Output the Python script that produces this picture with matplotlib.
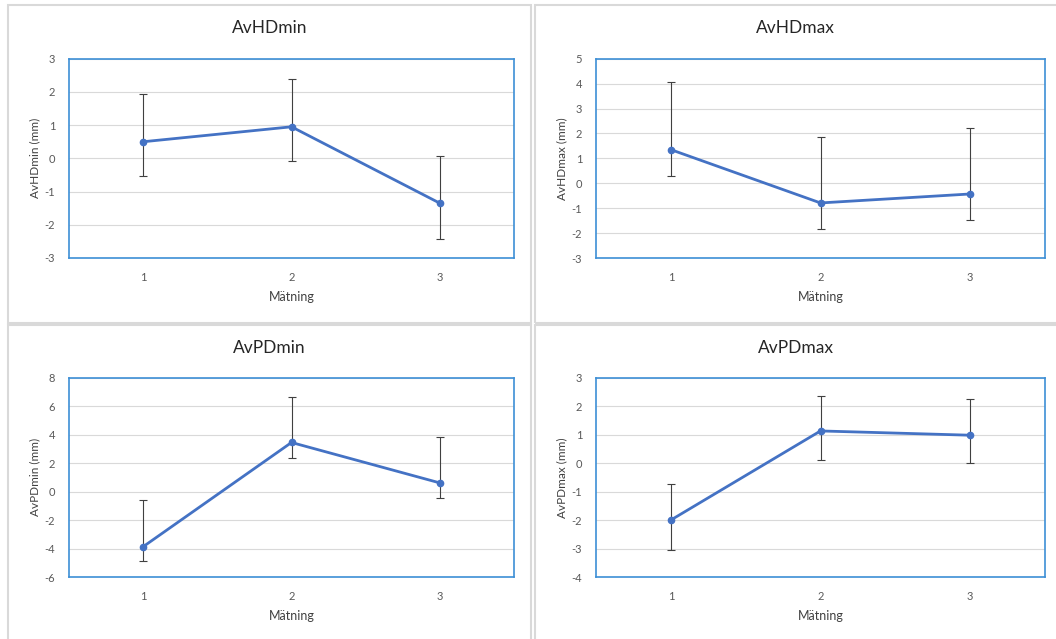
import numpy as np
from matplotlib import pyplot as plt
from matplotlib.patches import Rectangle

plt.rcParams['font.family'] = ['Lato', 'DejaVu Sans']
plt.rcParams['axes.unicode_minus'] = False

matning = [1, 2, 3]

titles = ['AvHDmin', 'AvHDmax', 'AvPDmin', 'AvPDmax']
ylabels = ['AvHDmin (mm)', 'AvHDmax (mm)', 'AvPDmin (mm)', 'AvPDmax (mm)']

avhdmin = [0.50, 0.95, -1.35]
avhdmin_low = [-0.53, -0.08, -2.42]
avhdmin_high = [1.94, 2.40, 0.06]

avhdmax = [1.35, -0.79, -0.43]
avhdmax_low = [0.29, -1.85, -1.49]
avhdmax_high = [4.05, 1.85, 2.20]

avpdmin = [-3.87, 3.45, 0.61]
avpdmin_low = [-4.87, 2.39, -0.42]
avpdmin_high = [-0.61, 6.63, 3.84]

avpdmax = [-2.0, 1.13, 0.98]
avpdmax_low = [-3.05, 0.10, 0.0]
avpdmax_high = [-0.73, 2.37, 2.26]

yranges = [(-3, 3, 1), (-3, 5, 1), (-6, 8, 2), (-4, 3, 1)]

series = [
    (avhdmin, avhdmin_low, avhdmin_high),
    (avhdmax, avhdmax_low, avhdmax_high),
    (avpdmin, avpdmin_low, avpdmin_high),
    (avpdmax, avpdmax_low, avpdmax_high),
]

W, H = 1056, 639
fig = plt.figure(figsize=(W / 100, H / 100), dpi=100)

# chart boxes (pixel coords: left, top, right, bottom)
boxes = [(8, 5, 531, 323), (535, 5, 1060, 323), (8, 325, 531, 645), (535, 325, 1060, 645)]
# plot areas
areas = [(69, 58.7, 514, 258), (596, 58.7, 1045, 258), (69, 377.7, 514, 577), (596, 377.7, 1045, 577)]

for b in boxes:
    fig.add_artist(Rectangle((b[0] / W, 1 - b[3] / H), (b[2] - b[0]) / W, (b[3] - b[1]) / H,
                             transform=fig.transFigure, fill=False, edgecolor='#d9d9d9', linewidth=1.5))

for i in range(4):
    l, t, r, b = areas[i]
    ax = fig.add_axes([l / W, 1 - b / H, (r - l) / W, (b - t) / H])
    y, lo, hi = series[i]
    y = np.array(y)
    yerr = [y - np.array(lo), np.array(hi) - y]
    ax.errorbar(matning, y, yerr=yerr, fmt='none', ecolor='#404040', elinewidth=0.8, capsize=3, capthick=0.8, zorder=2)
    ax.plot(matning, y, color='#4472C4', linewidth=2, marker='o', markersize=4.5, zorder=3)
    ymin, ymax, step = yranges[i]
    ax.set_ylim(ymin, ymax)
    ax.set_xlim(0.5, 3.5)
    ax.set_yticks(np.arange(ymin, ymax + step / 2, step))
    ax.set_xticks(matning)
    ax.grid(axis='y', color='#d9d9d9', linewidth=0.8)
    ax.set_axisbelow(True)
    ax.tick_params(axis='both', length=0, labelsize=8, labelcolor='#595959')
    ax.tick_params(axis='x', pad=10)
    ax.tick_params(axis='y', pad=10)
    for s in ax.spines.values():
        s.set_color('#3d8fd6')
        s.set_linewidth(1.2)
    ax.set_xlabel('Mätning', fontsize=9, color='#404040', labelpad=6)
    ax.set_ylabel(ylabels[i], fontsize=8.5, color='#404040', labelpad=3)
    bx = boxes[i]
    fig.text((bx[0] + min(bx[2], W) ) / 2 / W, 1 - (bx[1] + 23) / H, titles[i], ha='center', va='center',
             fontsize=12.5, color='#262626')

fig.savefig('out.png', dpi=100)
